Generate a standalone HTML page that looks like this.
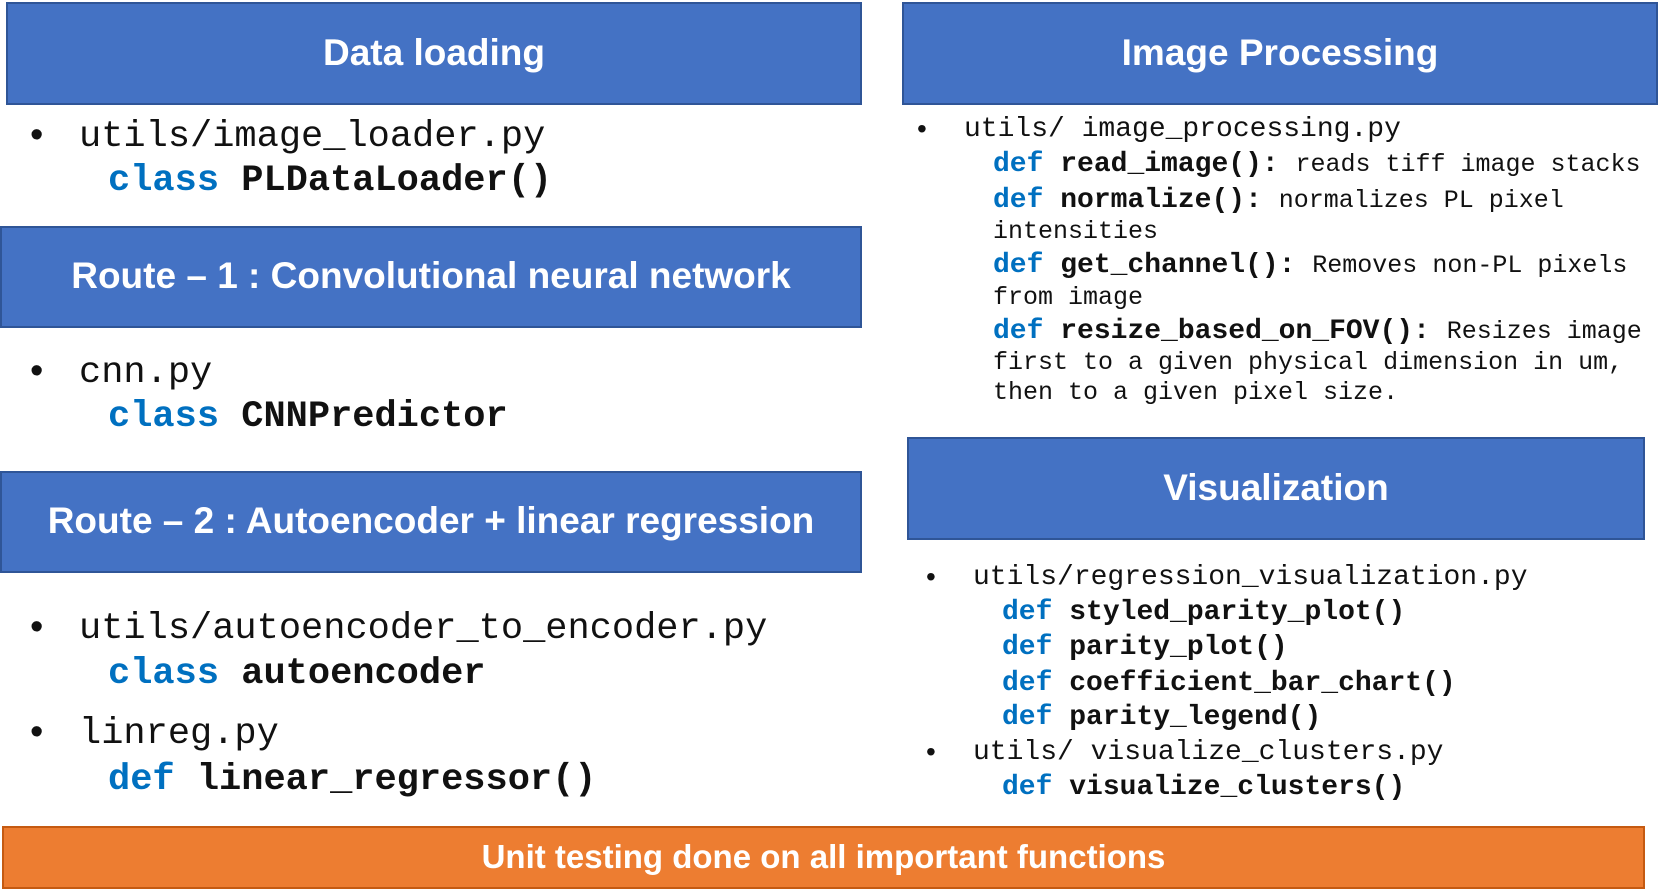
<!DOCTYPE html>
<html><head><meta charset="utf-8"><style>
body{margin:0;width:1674px;height:894px;background:#fff;position:relative;overflow:hidden;font-family:"Liberation Sans",sans-serif}
.h{position:absolute;background:#4472C4;border:2px solid #2F5597;box-sizing:border-box;color:#fff;font-weight:bold;font-size:37px;display:flex;align-items:center;justify-content:center;padding-bottom:2px}
.t{position:absolute;font-family:"Liberation Mono",monospace;white-space:pre;color:#111}
.k{color:#0070C0;font-weight:bold}
.b{font-weight:bold}
.L{font-size:37px;line-height:44px}
.R{font-size:28px;line-height:34px}
.d{font-size:25px}
.bu{position:absolute;font-size:38px;line-height:44px;color:#111}
.bs{position:absolute;font-size:28px;line-height:34px;color:#111}
</style></head><body>
<div class="h" style="left:6px;top:2px;width:856px;height:103px">Data loading</div>
<div class="h" style="left:902px;top:2px;width:756px;height:103px">Image Processing</div>
<div class="h" style="left:0;top:226px;width:862px;height:102px">Route – 1 : Convolutional neural network</div>
<div class="h" style="left:0;top:471px;width:862px;height:102px">Route – 2 : Autoencoder + linear regression</div>
<div class="h" style="left:907px;top:437px;width:738px;height:103px">Visualization</div>
<div class="h" style="left:2px;top:826px;width:1643px;height:63px;background:#ED7D31;border-color:#C55A11;font-size:33px">Unit testing done on all important functions</div>

<div class="bu" style="left:30px;top:113px">•</div>
<div class="t L" style="left:79px;top:115px">utils/image_loader.py</div>
<div class="t L" style="left:108px;top:159px"><span class="k">class</span> <span class="b">PLDataLoader()</span></div>
<div class="bu" style="left:30px;top:349px">•</div>
<div class="t L" style="left:79px;top:351px">cnn.py</div>
<div class="t L" style="left:108px;top:395px"><span class="k">class</span> <span class="b">CNNPredictor</span></div>
<div class="bu" style="left:30px;top:605px">•</div>
<div class="t L" style="left:79px;top:607px">utils/autoencoder_to_encoder.py</div>
<div class="t L" style="left:108px;top:652px"><span class="k">class</span> <span class="b">autoencoder</span></div>
<div class="bu" style="left:30px;top:710px">•</div>
<div class="t L" style="left:79px;top:712px">linreg.py</div>
<div class="t L" style="left:108px;top:758px"><span class="k">def</span> <span class="b">linear_regressor()</span></div>

<div class="bs" style="left:917px;top:112px">•</div>
<div class="t R" style="left:964px;top:113px">utils/ image_processing.py</div>
<div class="t R" style="left:993px;top:148px"><span class="k">def</span> <span class="b">read_image():</span> <span class="d">reads tiff image stacks</span></div>
<div class="t R" style="left:993px;top:184px"><span class="k">def</span> <span class="b">normalize():</span> <span class="d">normalizes PL pixel</span></div>
<div class="t R d" style="left:993px;top:215px">intensities</div>
<div class="t R" style="left:993px;top:249px"><span class="k">def</span> <span class="b">get_channel():</span> <span class="d">Removes non-PL pixels</span></div>
<div class="t R d" style="left:993px;top:281px">from image</div>
<div class="t R" style="left:993px;top:315px"><span class="k">def</span> <span class="b">resize_based_on_FOV():</span> <span class="d">Resizes image</span></div>
<div class="t R d" style="left:993px;top:346px">first to a given physical dimension in um,</div>
<div class="t R d" style="left:993px;top:376px">then to a given pixel size.</div>

<div class="bs" style="left:926px;top:560px">•</div>
<div class="t R" style="left:973px;top:561px">utils/regression_visualization.py</div>
<div class="t R" style="left:1002px;top:596px"><span class="k">def</span> <span class="b">styled_parity_plot()</span></div>
<div class="t R" style="left:1002px;top:631px"><span class="k">def</span> <span class="b">parity_plot()</span></div>
<div class="t R" style="left:1002px;top:667px"><span class="k">def</span> <span class="b">coefficient_bar_chart()</span></div>
<div class="t R" style="left:1002px;top:701px"><span class="k">def</span> <span class="b">parity_legend()</span></div>
<div class="bs" style="left:926px;top:735px">•</div>
<div class="t R" style="left:973px;top:736px">utils/ visualize_clusters.py</div>
<div class="t R" style="left:1002px;top:771px"><span class="k">def</span> <span class="b">visualize_clusters()</span></div>
</body></html>
